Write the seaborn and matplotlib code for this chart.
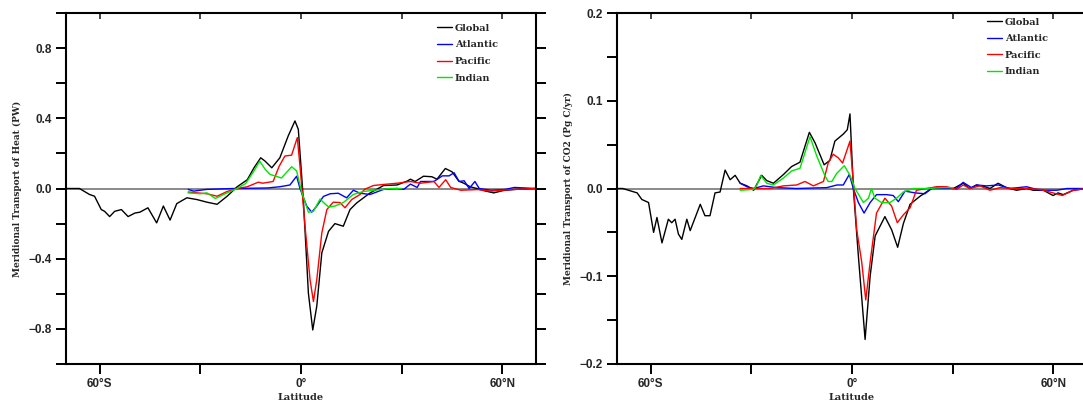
import numpy as np
import pandas as pd
import matplotlib
matplotlib.use("Agg")
import matplotlib.pyplot as plt
import seaborn as sns

# ---------------- Heat transport (PW) ----------------
heat_global_lat = [-70, -66, -63, -61.5, -59.5, -58.5, -57, -55.5, -53.5, -51.5, -49.5, -48, -45.6, -43,
                   -41, -39, -37, -34, -31, -28, -25, -22, -19, -16, -14, -12, -10.7, -8.7, -6.3, -3.8,
                   -1.8, -0.8, 0.7, 2.2, 3.5, 4.7, 6.2, 8.2, 10.1, 12.6, 14.6, 16.6, 20.6, 24.6, 28.6,
                   31.6, 32.6, 34, 36.5, 39, 40.5, 43, 45, 47, 48.5, 50.4, 52.4, 54.4, 57.4, 60.4, 64, 70]
heat_global = [0, 0, -0.034, -0.044, -0.12, -0.13, -0.16, -0.13, -0.12, -0.16, -0.14, -0.135, -0.11, -0.196,
               -0.10, -0.18, -0.086, -0.053, -0.063, -0.078, -0.09, -0.044, 0.01, 0.05, 0.118, 0.175, 0.156,
               0.118, 0.175, 0.30, 0.385, 0.337, -0.063, -0.596, -0.806, -0.67, -0.367, -0.244, -0.20, -0.215,
               -0.12, -0.082, -0.025, 0.017, 0.02, 0.042, 0.053, 0.04, 0.07, 0.067, 0.053, 0.114, 0.095,
               0.042, 0.03, 0.01, 0.0, -0.012, -0.025, -0.011, -0.005, 0]

heat_atl_lat = [-33.6, -32, -28, -20, -10, -6.3, -3.3, -1.3, -0.3, 1.7, 3.2, 4.7, 6.7, 8.7, 11.1, 13.6,
                15.6, 17.6, 20.6, 24.6, 28.6, 30.6, 32.6, 34.6, 35.6, 39.6, 42.1, 44.1, 45.6, 47.1, 48.6,
                50.1, 51.8, 53.1, 56.6, 60.6, 63.6, 70]
heat_atl = [-0.005, -0.015, -0.005, 0.0, 0.003, 0.01, 0.02, 0.07, 0.0, -0.1, -0.135, -0.1, -0.045, -0.03,
            -0.027, -0.053, -0.01, -0.027, -0.034, -0.005, 0.0, -0.005, 0.025, 0.006, 0.04, 0.04, 0.072,
            0.072, 0.09, 0.04, 0.044, 0.0, 0.04, 0.0, -0.01, -0.006, 0.006, 0]

heat_pac_lat = [-33.6, -28, -25, -22, -19, -16, -12.7, -11.4, -8.3, -6.5, -4.8, -2.8, -1.1, -0.3, 1.2, 2.7,
                3.7, 4.7, 6.2, 7.7, 9.6, 11.6, 13.1, 15.1, 17.6, 19, 21.6, 24.6, 28.6, 32.6, 35.6, 39.6,
                41.1, 43.1, 44.6, 47.6, 52.6, 56.6, 62.6, 70]
heat_pac = [-0.02, -0.03, -0.044, -0.017, 0.0, 0.01, 0.036, 0.03, 0.04, 0.127, 0.185, 0.19, 0.29, 0.127,
            -0.215, -0.52, -0.644, -0.52, -0.253, -0.12, -0.078, -0.08, -0.11, -0.063, -0.034, -0.004,
            0.017, 0.023, 0.03, 0.04, 0.03, 0.04, 0.006, 0.05, 0.006, -0.01, -0.006, -0.015, -0.006, 0]

heat_ind_lat = [-33.6, -30, -28, -25.5, -22, -19, -16.5, -14, -12.3, -10.7, -9.2, -5.8, -2.8, -1.3, 0.2,
                2.2, 3.7, 5.7, 6.7, 8.2, 10.1, 12.6, 15.6, 18.6, 22.6, 26.6, 30]
heat_ind = [-0.025, -0.03, -0.025, -0.057, -0.025, 0.0, 0.028, 0.1, 0.156, 0.11, 0.08, 0.06, 0.124, 0.1,
            -0.02, -0.135, -0.13, -0.06, -0.08, -0.105, -0.1, -0.08, -0.034, -0.017, -0.008, 0.0, 0.0]

# ---------------- CO2 transport (Pg C/yr) ----------------
co2_global_lat = [-70, -68.3, -64, -62.6, -60.6, -59.1, -58.1, -56.6, -54.7, -53.7, -52.7, -51.7, -50.7,
                  -49.2, -48.2, -45.2, -43.8, -42.3, -40.8, -39.3, -37.8, -36.3, -34.8, -33.3, -31.3, -29.3,
                  -26.9, -25.4, -23.4, -20.4, -18, -15.5, -12.7, -11, -8.3, -6.6, -5.1, -2.6, -1.4, -0.6,
                  0.4, 1.9, 3.9, 5.4, 6.9, 9.8, 11.8, 13.6, 15.3, 17.3, 20.2, 23.7, 26.2, 30.2, 33.1, 35.1,
                  37.1, 39.6, 41.1, 43.5, 46, 49, 52, 54, 57, 59.9, 61.4, 62.9, 65.9, 70]
co2_global = [0, 0, -0.005, -0.0125, -0.016, -0.050, -0.033, -0.062, -0.035, -0.039, -0.035, -0.052, -0.058,
              -0.035, -0.048, -0.018, -0.031, -0.031, -0.005, -0.004, 0.021, 0.010, 0.015, 0.006, 0.003,
              -0.002, 0.015, 0.009, 0.006, 0.016, 0.025, 0.030, 0.064, 0.052, 0.027, 0.032, 0.054, 0.062,
              0.067, 0.085, 0.0, -0.077, -0.172, -0.10, -0.054, -0.032, -0.047, -0.067, -0.04, -0.018,
              -0.009, 0.0, 0.002, 0.0, 0.006, 0.0, 0.004, 0.002, 0.0, 0.006, 0.001, -0.002, 0.0, -0.002,
              -0.002, -0.008, -0.005, -0.007, -0.002, 0]

co2_atl_lat = [-33.3, -31.3, -29.3, -26.4, -22.4, -16.5, -7.5, -4.5, -2.6, -0.8, 0.4, 1.9, 3.6, 5.4, 7.3,
               10.3, 12.3, 13.8, 15.8, 18.8, 21.7, 23.7, 27.2, 31.2, 33.1, 35.6, 37.1, 40.1, 43.6, 47, 52,
               56, 61, 64, 70]
co2_atl = [0.006, 0.002, 0.0, 0.003, 0.001, 0.0, 0.001, 0.004, 0.004, 0.016, 0.0, -0.016, -0.028, -0.016,
           -0.007, -0.007, -0.008, -0.015, -0.003, -0.005, -0.006, 0.0, 0.0, 0.0, 0.007, 0.001, 0.004,
           0.003, 0.004, 0.0, 0.002, -0.002, -0.002, 0.0, 0]

co2_pac_lat = [-33.3, -29.3, -24.4, -20.4, -16.5, -14, -11.5, -8.5, -7.1, -5.6, -4.1, -2.8, -0.6, 0.4, 1.4,
               2.9, 4.1, 5.4, 7.3, 9.8, 11.8, 13.5, 15.3, 17.3, 19.2, 22.2, 25.2, 28.2, 31.2, 33.1, 35.1,
               38.1, 41.1, 44.1, 48.1, 52, 56, 59.9, 62.6, 65.9, 70]
co2_pac = [0.0, 0.0, 0.0, 0.003, 0.004, 0.008, 0.003, 0.008, 0.029, 0.039, 0.035, 0.029, 0.054, 0.007,
           -0.047, -0.084, -0.127, -0.084, -0.028, -0.011, -0.020, -0.039, -0.030, -0.022, -0.002, 0.0,
           0.002, 0.002, -0.001, 0.004, 0.0, 0.003, -0.002, 0.001, 0.0, 0.0, -0.001, -0.005, -0.008, -0.002, 0]

co2_ind_lat = [-33.3, -29.3, -28.3, -27.2, -25.4, -23.4, -20.4, -18, -15.5, -12.5, -10.5, -8, -7.1, -6,
               -4.6, -2.3, -0.6, 0.9, 3.4, 4.9, 5.8, 6.8, 8.8, 11.3, 13.3, 15.3, 18.3, 22.2, 27.1, 30]
co2_ind = [-0.002, -0.001, 0.004, 0.015, 0.006, 0.004, 0.012, 0.02, 0.023, 0.059, 0.037, 0.014, 0.008,
           0.008, 0.017, 0.026, 0.015, 0.0, -0.016, -0.011, 0.0, -0.011, -0.016, -0.016, -0.011, -0.004,
           0.0, 0.0, 0.001, 0.001]

basins = ["Global", "Atlantic", "Pacific", "Indian"]
palette = {"Global": "#000000", "Atlantic": "#0000ff", "Pacific": "#ff0000", "Indian": "#00e600"}

lat_ticks = [-60, -30, 0, 30, 60]
lat_labels = ["60°S", "", "0°", "", "60°N"]

heat_yticks = [-1.0, -0.8, -0.6, -0.4, -0.2, 0.0, 0.2, 0.4, 0.6, 0.8, 1.0]
heat_ylabels = ["", "-0.8", "", "-0.4", "", "0.0", "", "0.4", "", "0.8", ""]

co2_yticks = [-0.2, -0.15, -0.1, -0.05, 0.0, 0.05, 0.1, 0.15, 0.2]
co2_ylabels = ["-0.2", "", "-0.1", "", "0.0", "", "0.1", "", "0.2"]


def long_frame(series):
    parts = []
    for name, (lat, val) in zip(basins, series):
        parts.append(pd.DataFrame({"lat": lat, "value": val, "basin": name}))
    return pd.concat(parts, ignore_index=True)


heat_df = long_frame([(heat_global_lat, heat_global), (heat_atl_lat, heat_atl),
                      (heat_pac_lat, heat_pac), (heat_ind_lat, heat_ind)])
co2_df = long_frame([(co2_global_lat, co2_global), (co2_atl_lat, co2_atl),
                     (co2_pac_lat, co2_pac), (co2_ind_lat, co2_ind)])

sns.set_theme(style="ticks")
plt.rcParams["font.family"] = ["Liberation Sans", "DejaVu Sans"]
plt.rcParams["axes.unicode_minus"] = True

label_font = dict(family="DejaVu Serif", weight="bold", size=7)
tick_font = dict(family="Liberation Sans", weight="bold", size=8.5)

W, H = 1083, 403
fig = plt.figure(figsize=(W / 100, H / 100), dpi=100)
ax_heat = fig.add_axes([66 / W, 1 - 364 / H, 470 / W, 351 / H])
ax_co2 = fig.add_axes([617 / W, 1 - 364 / H, 470 / W, 351 / H])


def style_panel(ax, df, ylim, yticks, ylabels, ylabel, legend_anchor):
    ax.axhline(0, color="#808080", lw=1.3, zorder=1)
    sns.lineplot(data=df, x="lat", y="value", hue="basin", hue_order=basins, palette=palette,
                 estimator=None, sort=False, lw=1.0, ax=ax, zorder=2)
    ax.set_xlim(-70, 70)
    ax.set_ylim(*ylim)
    ax.set_xticks(lat_ticks)
    ax.set_xticklabels(lat_labels, fontdict=tick_font)
    ax.set_yticks(yticks)
    ax.set_yticklabels([t.replace("-", "\u2212") for t in ylabels], fontdict=tick_font)
    for s in ax.spines.values():
        s.set_visible(True)
        s.set_linewidth(1.5)
        s.set_color("black")
    ax.tick_params(axis="both", direction="out", length=7, width=1.4, color="black", pad=3)
    ax.tick_params(axis="y", right=True)
    top = ax.secondary_xaxis("top")
    top.set_xticks(lat_ticks)
    top.set_xticklabels([])
    top.tick_params(direction="in", length=4, width=1.2)
    top.spines["top"].set_visible(False)
    ax.set_xlabel("Latitude", fontdict=label_font, labelpad=2)
    ax.set_ylabel(ylabel, fontdict=dict(label_font, size=6.5), labelpad=5)
    ax.grid(False)
    leg = ax.legend(loc="upper left", bbox_to_anchor=legend_anchor, frameon=False,
                    handlelength=1.6, handletextpad=0.25, labelspacing=0.78, borderpad=0,
                    borderaxespad=0,
                    prop=dict(family="DejaVu Serif", weight="bold", size=7))
    for line in leg.get_lines():
        line.set_linewidth(1.0)


style_panel(ax_heat, heat_df, (-1.0, 1.0), heat_yticks, heat_ylabels,
            "Meridional Transport of Heat (PW)", (0.789, 0.969))

style_panel(ax_co2, co2_df, (-0.2, 0.2), co2_yticks, co2_ylabels,
            "Meridional Transport of CO2 (Pg C/yr)", (0.787, 0.987))

fig.savefig("out.png", dpi=100, facecolor="white")
